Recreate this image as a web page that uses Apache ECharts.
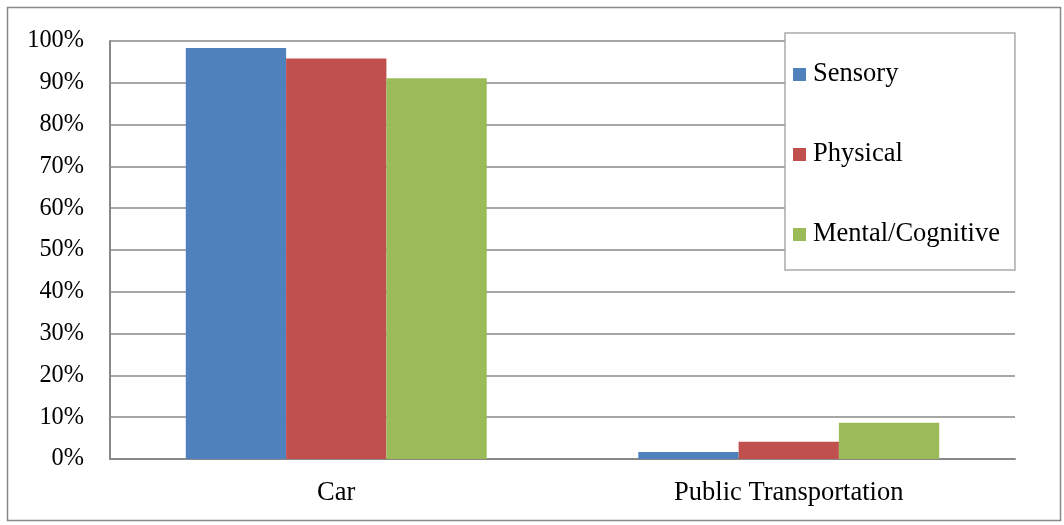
<!DOCTYPE html>
<html>
<head>
<meta charset="utf-8">
<script src="https://cdn.jsdelivr.net/npm/echarts@6/dist/echarts.min.js"></script>
<style>
  html, body { margin: 0; padding: 0; background: #fff; }
  #chart { width: 1064px; height: 525px; }
</style>
</head>
<body>
<div id="chart"></div>
<script>
// Share of trips by mode, per disability type (percent)
const categories = ['Car', 'Public Transportation'];
const seriesNames = ['Sensory', 'Physical', 'Mental/Cognitive'];
const sensory = [98.3, 1.7];
const physical = [95.8, 4.1];
const mentalCognitive = [91.1, 8.7];
const yTicks = [0, 10, 20, 30, 40, 50, 60, 70, 80, 90, 100];

const colors = ['#4f81bd', '#c0504d', '#9bbb59'];
const values = [sensory, physical, mentalCognitive];
const font = "'Liberation Serif', 'Times New Roman', serif";

const chart = echarts.init(document.getElementById('chart'), null, { renderer: 'canvas' });

chart.setOption({
  animation: false,
  backgroundColor: '#fff',
  textStyle: { fontFamily: font },
  graphic: [{
    type: 'rect',
    shape: { x: 7.5, y: 7.5, width: 1053, height: 513 },
    style: { fill: 'none', stroke: '#888', lineWidth: 1.5 },
    silent: true
  }],
  grid: { left: 110, right: 49, top: 41, bottom: 66, containLabel: false },
  legend: {
    orient: 'vertical',
    left: 785,
    top: 33,
    itemWidth: 13,
    itemHeight: 13,
    itemGap: 53,
    padding: [28, 15, 22, 8],
    backgroundColor: '#fff',
    borderColor: '#aaa',
    borderWidth: 1.5,
    icon: 'rect',
    textStyle: { fontFamily: font, fontSize: 26.5, color: '#000', padding: [0, 0, 0, 2] },
    data: seriesNames
  },
  xAxis: {
    type: 'category',
    data: categories,
    axisLine: { show: true, lineStyle: { color: '#888', width: 2 } },
    axisTick: { show: false },
    axisLabel: { fontFamily: font, fontSize: 26.5, color: '#000', margin: 21 }
  },
  yAxis: {
    type: 'value',
    min: 0,
    max: 100,
    interval: 10,
    axisLine: { show: true, lineStyle: { color: '#888', width: 2 } },
    axisTick: { show: false },
    splitLine: { show: true, lineStyle: { color: '#888', width: 1.5 } },
    axisLabel: {
      fontFamily: font, fontSize: 24.3, color: '#000', margin: 26,
      formatter: v => yTicks.includes(v) ? v + '%' : ''
    }
  },
  series: seriesNames.map((name, i) => ({
    name,
    type: 'bar',
    data: values[i],
    barGap: '0%',
    barCategoryGap: '33.5%',
    itemStyle: { color: colors[i] }
  }))
});
</script>
</body>
</html>
